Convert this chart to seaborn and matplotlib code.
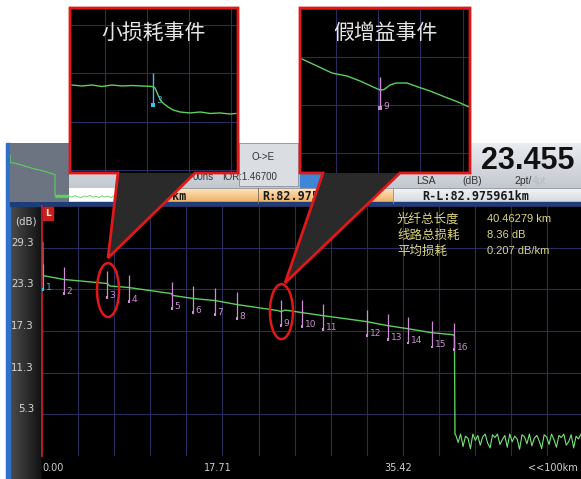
import numpy as np
import matplotlib
matplotlib.use("Agg")
import matplotlib.pyplot as plt
import matplotlib.transforms as mtransforms
import seaborn as sns
from matplotlib.colors import to_rgb
from matplotlib.patches import Rectangle, Polygon, Ellipse

# OTDR trace (distance km, level dB)
trace_km = [0.08, 0.10, 2.16, 6.38, 6.67, 8.44, 12.66, 12.86, 14.82, 16.98, 19.14,
            23.16, 23.45, 23.85, 24.24, 25.52, 27.58, 31.89, 33.95, 35.92, 38.27,
            40.33, 40.48, 40.53]
trace_db = [30.1, 25.3, 24.75, 24.17, 23.8, 23.6, 22.72, 22.43, 22.0, 21.7, 21.12,
            20.25, 20.1, 20.32, 20.25, 19.96, 19.52, 18.65, 18.07, 17.63, 17.05,
            16.76, 16.6, 2.4]
# noise floor after the fibre end (40.6 .. 52.9 km)
noise_db = [2.3, 1.2, 2.4, 0.6, 2.1, 1.8, 0.3, 2.4, 1.5, 2.2, 0.8, 2.0, 2.4, 1.1,
            0.4, 2.3, 1.9, 2.4, 0.9, 1.6, 2.2, 0.5, 2.4, 1.3, 2.1, 1.7, 0.2, 2.3,
            2.0, 1.0, 2.4, 0.7, 1.8, 2.2, 1.4, 0.3, 2.3, 2.0, 0.9, 2.4, 1.6, 0.5,
            2.2, 1.9, 2.4, 0.8, 1.3, 2.3, 0.4, 2.1, 1.7, 2.4]
# noise seen only in the overview thumbnail (53 .. 126 km)
thumb_noise_db = [1.5, 0.8, 1.9, 1.1, 0.6, 1.7, 1.2, 2.0, 0.9, 1.4, 0.7, 1.8, 1.0, 1.6,
                  0.5, 1.9, 1.3, 0.8, 1.7, 1.1, 2.0, 0.6, 1.5, 0.9, 1.8, 1.2, 0.7, 1.6]

event_km = [0.10, 2.16, 6.38, 8.54, 12.76, 14.82, 16.98, 19.14, 23.45, 25.52,
            27.58, 31.89, 33.95, 35.92, 38.27, 40.43]
event_names = [str(i) for i in range(1, 17)]

xtick_km = [0.0, 17.71, 35.42]
xtick_labels = ["0.00", "17.71", "35.42"]
ytick_db = [5.3, 11.3, 17.3, 23.3, 29.3]
ytick_labels = ["5.3", "11.3", "17.3", "23.3", "29.3"]

summary_names = ["光纤总长度", "线路总损耗", "平均损耗"]
summary_values = ["40.46279 km", "8.36 dB", "0.207 dB/km"]

# zoomed windows: distance from grid centre (m), relative level (dB)
loss_m = [-714, -619, -524, -428, -333, -238, -143, -48, 48, 76, 105, 133, 162,
          200, 248, 314, 409, 505, 600, 695, 790, 847]
loss_db = [0.381, 0.371, 0.381, 0.366, 0.381, 0.371, 0.376, 0.371, 0.366, 0.351,
           0.278, 0.216, 0.186, 0.155, 0.124, 0.103, 0.093, 0.103, 0.088, 0.093,
           0.082, 0.088]
loss_event = (57, 0.175, 0.505)
gain_m = [-719, -577, -435, -293, -170, -47, 19, 57, 114, 170, 274, 378, 492, 634,
          757, 861]
gain_db = [0.479, 0.406, 0.333, 0.302, 0.25, 0.188, 0.156, 0.161, 0.208, 0.229,
           0.229, 0.188, 0.146, 0.083, 0.031, -0.021]
gain_event = (19, -0.031, 0.292)

plt.rcParams["font.family"] = ["DejaVu Sans", "Noto Sans CJK SC"]

W, H = 581, 479
fig = plt.figure(figsize=(W / 100, H / 100), dpi=100)
fig.patch.set_facecolor("white")

GRID = "#2b2b5e"
TRACE = "#5ccf5c"
MARK = "#c98fd2"
RED = "#e01818"


def px_axes(x0, y0, x1, y1, z):
    a = fig.add_axes([x0 / W, 1 - y1 / H, (x1 - x0) / W, (y1 - y0) / H])
    a.set_zorder(z)
    return a


def gradient(a, x0, x1, y0, y1, c0, c1, vertical=True):
    c0, c1 = np.array(to_rgb(c0)), np.array(to_rgb(c1))
    t = np.linspace(0, 1, 64)[:, None]
    cols = c0 + (c1 - c0) * t
    img = cols[:, None, :] if vertical else cols[None, :, :]
    a.imshow(img, extent=(x0, x1, y1, y0), aspect="auto", origin="upper",
             interpolation="bilinear", zorder=1)


# ---------- screen chrome (pixel coordinates) ----------
bg = px_axes(0, 0, W, H, 0)
bg.axis("off")
gradient(bg, 10, W, 143, 188, "#eaecf0", "#c3c8cf")
gradient(bg, 150, 393, 188, 203, "#fde6c2", "#f1ac5c")
gradient(bg, 393, W, 188, 204, "#f2f4f6", "#d3d7dd")
gradient(bg, 10, 42, 206, H, "#4c4c4c", "#111111", vertical=False)
bg.add_patch(Rectangle((42, 206), W - 42, H - 206, color="black", zorder=2))
bg.add_patch(Rectangle((6, 143), 4, H - 143, color="#2f70c8", zorder=2))
bg.add_patch(Rectangle((10, 202), W - 10, 4, color="#1c3d78", zorder=2))
bg.add_patch(Rectangle((239, 143), 59, 43, fc="#dadde2", ec="#8a9099", lw=0.6, zorder=2))
bg.add_patch(Rectangle((300, 172), 28, 15, color="#3f86d6", zorder=2))
bg.plot([150, W], [187.5, 187.5], color="#8a9099", lw=0.6, zorder=3)
bg.plot([258, 258], [188, 203], color="#7a6a50", lw=0.6, zorder=3)
bg.plot([393, 393], [188, 203], color="#8a9099", lw=0.6, zorder=3)

lib = dict(family=["Liberation Sans", "DejaVu Sans"], color="#333333", zorder=4)
bg.text(263, 157, "O->E", fontsize=7, ha="center", va="center", **lib)
bg.text(193, 177, "00ns", fontsize=7, ha="left", va="center", **lib)
bg.text(222, 177, "IOR:1.46700", fontsize=7, ha="left", va="center", **lib)
bg.text(426, 181, "LSA", fontsize=7.5, ha="center", va="center", **lib)
bg.text(472, 181, "(dB)", fontsize=7.5, ha="center", va="center", **lib)
bg.text(532, 181, "2pt/", fontsize=7.5, ha="right", va="center", **lib)
bg.text(532, 181, "4pt", fontsize=7.5, ha="left", va="center",
        family=["Liberation Sans"], color="#b4b9c2", zorder=4)
bg.text(528, 161, "23.455", fontsize=22, fontweight="bold", ha="center", va="center",
        family=["Liberation Sans"], color="#111111", zorder=4)
mono = dict(family=["DejaVu Sans Mono"], fontweight="bold", fontsize=8.5,
            color="#1a1a1a", va="center", zorder=4)
bg.text(186, 196, "km", ha="right", **mono)
bg.text(262, 196, "R:82.975961km", ha="left", **mono)
bg.text(422, 196, "R-L:82.975961km", ha="left", **mono)
bg.set_xlim(0, W)
bg.set_ylim(H, 0)

# ---------- overview thumbnail ----------
th = px_axes(10, 143, 150, 202, 3)
th.set_facecolor("#050505")
th.axvspan(0, 52.9, color="#6c7482", lw=0)
sns.lineplot(x=trace_km, y=trace_db, ax=th, sort=False, estimator=None, color=TRACE, lw=0.8)
sns.lineplot(x=np.linspace(40.6, 52.9, len(noise_db)), y=noise_db, ax=th, sort=False,
             estimator=None, color=TRACE, lw=0.6)
sns.lineplot(x=np.linspace(53.1, 126, len(thumb_noise_db)), y=thumb_noise_db, ax=th,
             sort=False, estimator=None, color=TRACE, lw=0.6)
th.set_xlim(0, 126)
th.set_ylim(-2.5, 38.5)
th.axis("off")

# ---------- main OTDR trace ----------
ax = px_axes(42, 206, W, 456, 2)
ax.set_facecolor("black")
sns.lineplot(x=trace_km, y=trace_db, ax=ax, sort=False, estimator=None, color=TRACE, lw=1.0)
sns.lineplot(x=np.linspace(40.6, 52.9, len(noise_db)), y=noise_db, ax=ax, sort=False,
             estimator=None, color="#74e474", lw=0.8)
ax.set_xlim(0, 52.9)
ax.set_ylim(-0.77, 35.37)
ax.set_xticks([])
ax.set_xticks(np.arange(1, 15) * 17.71 / 5, minor=True)
ax.set_yticks(ytick_db + [35.3])
ax.set_yticklabels([])
ax.grid(False)
ax.xaxis.grid(True, which="minor", color=GRID, lw=0.8)
ax.yaxis.grid(True, which="major", color=GRID, lw=0.8)
ax.set_axisbelow(True)
ax.tick_params(which="both", length=0)
ax.set_xlabel("")
ax.set_ylabel("")
for s in ["top", "right", "bottom"]:
    ax.spines[s].set_visible(False)
ax.spines["left"].set_color("#d0203a")
ax.spines["left"].set_linewidth(1.2)

ytr = mtransforms.blended_transform_factory(ax.transAxes, ax.transData)
for v, lab in zip(ytick_db, ytick_labels):
    ax.text(-8 / 539, v, lab, transform=ytr, ha="right", va="bottom",
            fontsize=7.4, color="#d6d6d6", clip_on=False)
xtr = mtransforms.blended_transform_factory(ax.transData, ax.transAxes)
shift = mtransforms.ScaledTranslation(-5 / 100, 0, fig.dpi_scale_trans)
for k, (v, lab) in enumerate(zip(xtick_km, xtick_labels)):
    ax.text(v, -12 / 250, lab, transform=xtr if k == 0 else xtr + shift,
            ha="left" if k == 0 else "center", va="center", fontsize=7,
            color="#cfcfcf", clip_on=False)

lvl = np.interp(event_km, trace_km, trace_db)
colors = ["#3fc0e6"] + [MARK] * (len(event_km) - 1)
ax.vlines(event_km, lvl - 2.05, lvl + 1.75, colors=colors, lw=0.9)
ax.scatter(event_km, lvl - 2.05, s=4, c=colors, marker="s", lw=0, zorder=3)
for k, b, name, c in zip(event_km, lvl - 2.05, event_names, colors):
    ax.text(k + 0.25, b + 0.3, name, color=c, fontsize=6.5, ha="left", va="center")

ax.add_patch(Ellipse((event_km[2] + 0.1, lvl[2] - 0.95), 2.16, 7.8, fill=False,
                     ec=RED, lw=1.8, clip_on=False, zorder=5))
ax.add_patch(Ellipse((event_km[8] + 0.05, lvl[8]), 2.26, 7.95, fill=False,
                     ec=RED, lw=1.8, clip_on=False, zorder=5))


# ---------- zoom windows ----------
def zoom_box(x0, x1, m, db, ev, ev_color, title, xlim, ylim):
    b = px_axes(x0, 8, x1, 173, 5)
    b.set_facecolor("black")
    sns.lineplot(x=m, y=db, ax=b, sort=False, estimator=None, color=TRACE, lw=1.0)
    b.vlines([ev[0]], ev[1], ev[2], colors=ev_color, lw=1.0)
    b.scatter([ev[0]], [ev[1]], s=5, c=ev_color, marker="s", lw=0)
    b.set_xlim(*xlim)
    b.set_ylim(*ylim)
    b.set_xticks([-400, 0, 400, 800])
    b.set_yticks([-0.5, 0, 0.5, 1.0])
    b.set_xticklabels([])
    b.set_yticklabels([])
    b.tick_params(length=0)
    b.grid(True, color=GRID, lw=0.8)
    b.set_axisbelow(True)
    b.set_xlabel("")
    b.set_ylabel("")
    for s in b.spines.values():
        s.set_visible(False)
    b.text(0.5, 0.848, title, transform=b.transAxes, ha="center", va="center",
           fontsize=15, color="#e6e6e6", family=["Noto Sans CJK SC"])
    return b


b1 = zoom_box(70, 238, loss_m, loss_db, loss_event, "#3fc0e6", "小损耗事件",
              (-733, 866), (-0.526, 1.175))
b1.text(loss_event[0] + 35, loss_event[1] + 0.05, "3", color="#3fc0e6", fontsize=6.5,
        ha="left", va="center")
b2 = zoom_box(300, 470, gain_m, gain_db, gain_event, MARK, "假增益事件",
              (-738, 870), (-0.708, 1.01))
b2.text(gain_event[0] + 35, gain_event[1] + 0.02, "9", color=MARK, fontsize=6.5,
        ha="left", va="center")

# ---------- callout wedges, frames and overlay text ----------
ov = px_axes(0, 0, W, H, 10)
ov.axis("off")
ov.add_patch(Polygon([(118, 173), (195, 173), (108, 258)], closed=True, fc="#2a2a2a", ec="none"))
ov.add_patch(Polygon([(323, 173), (400, 173), (285, 283)], closed=True, fc="#2a2a2a", ec="none"))
ov.add_patch(Polygon([(108, 258), (118, 173), (70, 173), (70, 8), (238, 8), (238, 173),
                      (195, 173)], closed=True, fill=False, ec=RED, lw=2, joinstyle="miter"))
ov.add_patch(Polygon([(285, 283), (323, 173), (300, 173), (300, 8), (470, 8), (470, 173),
                      (400, 173)], closed=True, fill=False, ec=RED, lw=2, joinstyle="miter"))
ov.add_patch(Rectangle((43, 207), 10, 13, color="#c81e1e"))
ov.text(48, 213.5, "L", color="#fff2c8", fontsize=6.5, fontweight="bold", ha="center", va="center")
ov.text(26, 221, "(dB)", color="#d6d6d6", fontsize=7.4, ha="center", va="center")
for k, (name, val) in enumerate(zip(summary_names, summary_values)):
    y = 219 + 16 * k
    ov.text(397, y, name, color="#dcd67e", fontsize=9, ha="left", va="center",
            family=["Noto Sans CJK SC"])
    ov.text(487, y, val, color="#dcd67e", fontsize=8, ha="left", va="center",
            family=["Liberation Sans", "DejaVu Sans"])
ov.text(578, 468, "<<100km", color="#cfcfcf", fontsize=7, ha="right", va="center")
ov.set_xlim(0, W)
ov.set_ylim(H, 0)

fig.savefig("out.png", dpi=100, facecolor=fig.get_facecolor())
